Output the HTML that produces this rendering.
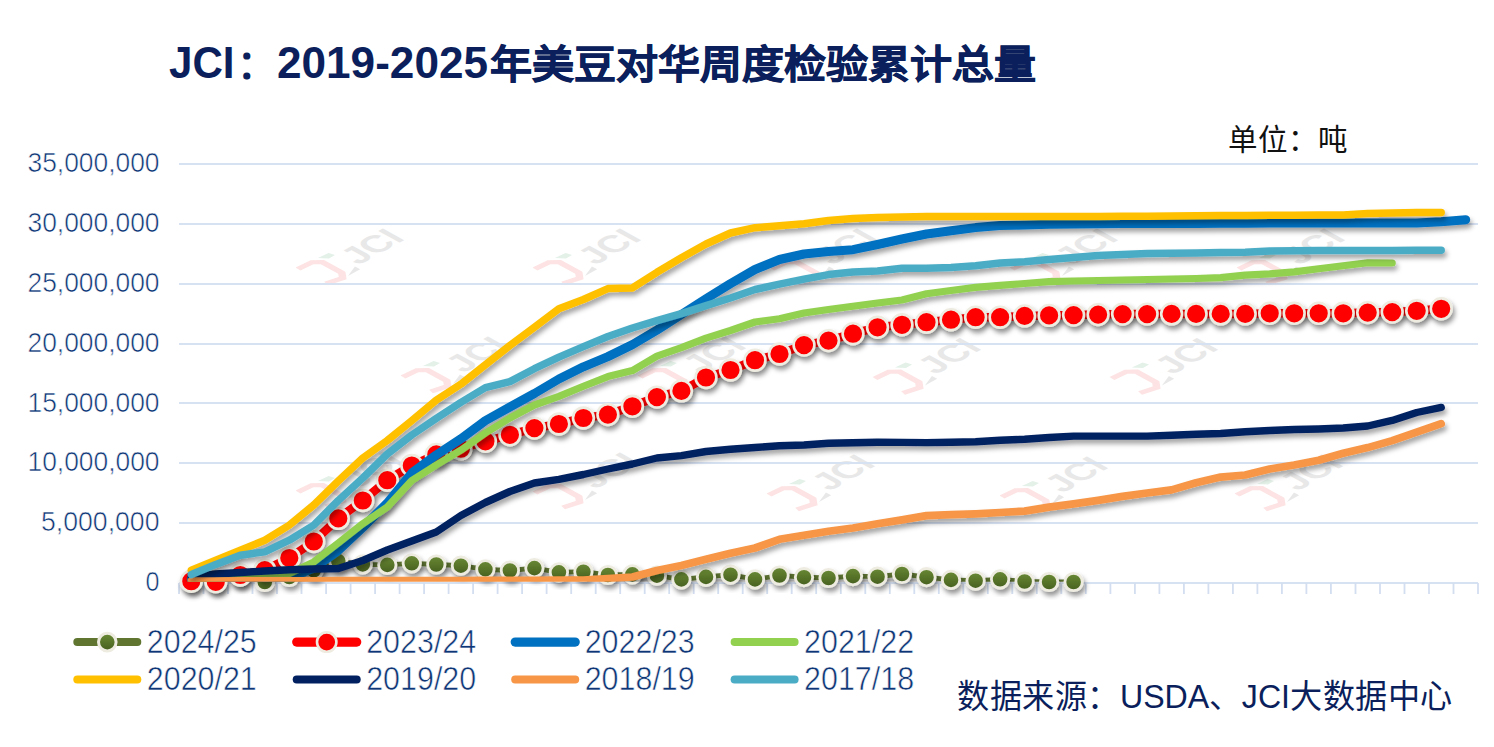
<!DOCTYPE html>
<html lang="zh-CN"><head><meta charset="utf-8">
<style>
html,body{margin:0;padding:0;background:#fff;}
body{width:1494px;height:747px;overflow:hidden;position:relative;font-family:"Liberation Sans",sans-serif;}
svg{position:absolute;left:0;top:0;}
.ax{font-size:28.5px;fill:#0E3676;stroke:#fff;stroke-width:0.6px;font-family:"Liberation Sans",sans-serif;}
.lg{font-size:33px;fill:#0E3676;stroke:#fff;stroke-width:0.6px;font-family:"Liberation Sans",sans-serif;}
.wm{font-size:35px;font-weight:bold;fill:#E8E8E8;font-family:"Liberation Sans",sans-serif;}
.title{position:absolute;left:170px;top:36px;font-size:38px;font-weight:bold;color:#0B1F5C;white-space:nowrap;line-height:1;}
.unit{position:absolute;left:1228px;top:120px;font-size:27px;color:#111;white-space:nowrap;line-height:1;}
.src{position:absolute;left:958px;top:676px;font-size:30px;color:#0B1F5C;white-space:nowrap;line-height:1;}
</style></head><body>
<svg width="1494" height="747" viewBox="0 0 1494 747">
<defs>
<filter id="sh" x="-5%" y="-20%" width="110%" height="140%"><feDropShadow dx="2" dy="4" stdDeviation="2.6" flood-color="#000" flood-opacity="0.36"/></filter>
<filter id="sh2" x="-50%" y="-50%" width="200%" height="200%"><feDropShadow dx="2" dy="4" stdDeviation="2.6" flood-color="#000" flood-opacity="0.42"/></filter>
<clipPath id="pc"><rect x="170" y="150" width="1324" height="431.8"/></clipPath>
<linearGradient id="og" x1="0" y1="0" x2="0" y2="1"><stop offset="0" stop-color="#6A8A35"/><stop offset="1" stop-color="#465F1E"/></linearGradient>
</defs>
<g transform="matrix(0.875,-0.485,0.877,0.48,298.0,269.0)">
<path d="M0 0 L15 1 L21 7 L21 29 L16 35 L1 31" fill="none" stroke="#FDE3E3" stroke-width="6" stroke-linejoin="miter"/>
<path d="M22.8 0 L34 1 L35.6 6.7 L28.4 7 Z" fill="#E3F1E8"/>
<path d="M21 36 L35 30 L35 36 Z" fill="#E8E8E8"/>
<text x="38" y="31" class="wm">JCI</text>
</g><g transform="matrix(0.875,-0.485,0.877,0.48,535.0,269.0)">
<path d="M0 0 L15 1 L21 7 L21 29 L16 35 L1 31" fill="none" stroke="#FDE3E3" stroke-width="6" stroke-linejoin="miter"/>
<path d="M22.8 0 L34 1 L35.6 6.7 L28.4 7 Z" fill="#E3F1E8"/>
<path d="M21 36 L35 30 L35 36 Z" fill="#E8E8E8"/>
<text x="38" y="31" class="wm">JCI</text>
</g><g transform="matrix(0.875,-0.485,0.877,0.48,772.0,269.0)">
<path d="M0 0 L15 1 L21 7 L21 29 L16 35 L1 31" fill="none" stroke="#FDE3E3" stroke-width="6" stroke-linejoin="miter"/>
<path d="M22.8 0 L34 1 L35.6 6.7 L28.4 7 Z" fill="#E3F1E8"/>
<path d="M21 36 L35 30 L35 36 Z" fill="#E8E8E8"/>
<text x="38" y="31" class="wm">JCI</text>
</g><g transform="matrix(0.875,-0.485,0.877,0.48,1012.0,269.0)">
<path d="M0 0 L15 1 L21 7 L21 29 L16 35 L1 31" fill="none" stroke="#FDE3E3" stroke-width="6" stroke-linejoin="miter"/>
<path d="M22.8 0 L34 1 L35.6 6.7 L28.4 7 Z" fill="#E3F1E8"/>
<path d="M21 36 L35 30 L35 36 Z" fill="#E8E8E8"/>
<text x="38" y="31" class="wm">JCI</text>
</g><g transform="matrix(0.875,-0.485,0.877,0.48,1239.0,269.0)">
<path d="M0 0 L15 1 L21 7 L21 29 L16 35 L1 31" fill="none" stroke="#FDE3E3" stroke-width="6" stroke-linejoin="miter"/>
<path d="M22.8 0 L34 1 L35.6 6.7 L28.4 7 Z" fill="#E3F1E8"/>
<path d="M21 36 L35 30 L35 36 Z" fill="#E8E8E8"/>
<text x="38" y="31" class="wm">JCI</text>
</g><g transform="matrix(0.875,-0.485,0.877,0.48,403.0,377.0)">
<path d="M0 0 L15 1 L21 7 L21 29 L16 35 L1 31" fill="none" stroke="#FDE3E3" stroke-width="6" stroke-linejoin="miter"/>
<path d="M22.8 0 L34 1 L35.6 6.7 L28.4 7 Z" fill="#E3F1E8"/>
<path d="M21 36 L35 30 L35 36 Z" fill="#E8E8E8"/>
<text x="38" y="31" class="wm">JCI</text>
</g><g transform="matrix(0.875,-0.485,0.877,0.48,640.0,377.0)">
<path d="M0 0 L15 1 L21 7 L21 29 L16 35 L1 31" fill="none" stroke="#FDE3E3" stroke-width="6" stroke-linejoin="miter"/>
<path d="M22.8 0 L34 1 L35.6 6.7 L28.4 7 Z" fill="#E3F1E8"/>
<path d="M21 36 L35 30 L35 36 Z" fill="#E8E8E8"/>
<text x="38" y="31" class="wm">JCI</text>
</g><g transform="matrix(0.875,-0.485,0.877,0.48,875.0,378.5)">
<path d="M0 0 L15 1 L21 7 L21 29 L16 35 L1 31" fill="none" stroke="#FDE3E3" stroke-width="6" stroke-linejoin="miter"/>
<path d="M22.8 0 L34 1 L35.6 6.7 L28.4 7 Z" fill="#E3F1E8"/>
<path d="M21 36 L35 30 L35 36 Z" fill="#E8E8E8"/>
<text x="38" y="31" class="wm">JCI</text>
</g><g transform="matrix(0.875,-0.485,0.877,0.48,1112.0,378.5)">
<path d="M0 0 L15 1 L21 7 L21 29 L16 35 L1 31" fill="none" stroke="#FDE3E3" stroke-width="6" stroke-linejoin="miter"/>
<path d="M22.8 0 L34 1 L35.6 6.7 L28.4 7 Z" fill="#E3F1E8"/>
<path d="M21 36 L35 30 L35 36 Z" fill="#E8E8E8"/>
<text x="38" y="31" class="wm">JCI</text>
</g><g transform="matrix(0.875,-0.485,0.877,0.48,298.0,492.0)">
<path d="M0 0 L15 1 L21 7 L21 29 L16 35 L1 31" fill="none" stroke="#FDE3E3" stroke-width="6" stroke-linejoin="miter"/>
<path d="M22.8 0 L34 1 L35.6 6.7 L28.4 7 Z" fill="#E3F1E8"/>
<path d="M21 36 L35 30 L35 36 Z" fill="#E8E8E8"/>
<text x="38" y="31" class="wm">JCI</text>
</g><g transform="matrix(0.875,-0.485,0.877,0.48,535.0,493.0)">
<path d="M0 0 L15 1 L21 7 L21 29 L16 35 L1 31" fill="none" stroke="#FDE3E3" stroke-width="6" stroke-linejoin="miter"/>
<path d="M22.8 0 L34 1 L35.6 6.7 L28.4 7 Z" fill="#E3F1E8"/>
<path d="M21 36 L35 30 L35 36 Z" fill="#E8E8E8"/>
<text x="38" y="31" class="wm">JCI</text>
</g><g transform="matrix(0.875,-0.485,0.877,0.48,769.0,495.0)">
<path d="M0 0 L15 1 L21 7 L21 29 L16 35 L1 31" fill="none" stroke="#FDE3E3" stroke-width="6" stroke-linejoin="miter"/>
<path d="M22.8 0 L34 1 L35.6 6.7 L28.4 7 Z" fill="#E3F1E8"/>
<path d="M21 36 L35 30 L35 36 Z" fill="#E8E8E8"/>
<text x="38" y="31" class="wm">JCI</text>
</g><g transform="matrix(0.875,-0.485,0.877,0.48,1002.0,497.0)">
<path d="M0 0 L15 1 L21 7 L21 29 L16 35 L1 31" fill="none" stroke="#FDE3E3" stroke-width="6" stroke-linejoin="miter"/>
<path d="M22.8 0 L34 1 L35.6 6.7 L28.4 7 Z" fill="#E3F1E8"/>
<path d="M21 36 L35 30 L35 36 Z" fill="#E8E8E8"/>
<text x="38" y="31" class="wm">JCI</text>
</g><g transform="matrix(0.875,-0.485,0.877,0.48,1237.0,495.0)">
<path d="M0 0 L15 1 L21 7 L21 29 L16 35 L1 31" fill="none" stroke="#FDE3E3" stroke-width="6" stroke-linejoin="miter"/>
<path d="M22.8 0 L34 1 L35.6 6.7 L28.4 7 Z" fill="#E3F1E8"/>
<path d="M21 36 L35 30 L35 36 Z" fill="#E8E8E8"/>
<text x="38" y="31" class="wm">JCI</text>
</g>
<rect x="179" y="163" width="1299" height="2" fill="#D6E1F2"/><rect x="179" y="223" width="1299" height="2" fill="#D6E1F2"/><rect x="179" y="283" width="1299" height="2" fill="#D6E1F2"/><rect x="179" y="343" width="1299" height="2" fill="#D6E1F2"/><rect x="179" y="402" width="1299" height="2" fill="#D6E1F2"/><rect x="179" y="462" width="1299" height="2" fill="#D6E1F2"/><rect x="179" y="522" width="1299" height="2" fill="#D6E1F2"/><rect x="179" y="582" width="1299" height="2" fill="#D6E1F2"/>
<rect x="178.1" y="583" width="1.8" height="11" fill="#D3DEF0"/><rect x="202.6" y="583" width="1.8" height="11" fill="#D3DEF0"/><rect x="227.1" y="583" width="1.8" height="11" fill="#D3DEF0"/><rect x="251.6" y="583" width="1.8" height="11" fill="#D3DEF0"/><rect x="276.1" y="583" width="1.8" height="11" fill="#D3DEF0"/><rect x="300.6" y="583" width="1.8" height="11" fill="#D3DEF0"/><rect x="325.2" y="583" width="1.8" height="11" fill="#D3DEF0"/><rect x="349.7" y="583" width="1.8" height="11" fill="#D3DEF0"/><rect x="374.2" y="583" width="1.8" height="11" fill="#D3DEF0"/><rect x="398.7" y="583" width="1.8" height="11" fill="#D3DEF0"/><rect x="423.2" y="583" width="1.8" height="11" fill="#D3DEF0"/><rect x="447.7" y="583" width="1.8" height="11" fill="#D3DEF0"/><rect x="472.2" y="583" width="1.8" height="11" fill="#D3DEF0"/><rect x="496.7" y="583" width="1.8" height="11" fill="#D3DEF0"/><rect x="521.2" y="583" width="1.8" height="11" fill="#D3DEF0"/><rect x="545.7" y="583" width="1.8" height="11" fill="#D3DEF0"/><rect x="570.3" y="583" width="1.8" height="11" fill="#D3DEF0"/><rect x="594.8" y="583" width="1.8" height="11" fill="#D3DEF0"/><rect x="619.3" y="583" width="1.8" height="11" fill="#D3DEF0"/><rect x="643.8" y="583" width="1.8" height="11" fill="#D3DEF0"/><rect x="668.3" y="583" width="1.8" height="11" fill="#D3DEF0"/><rect x="692.8" y="583" width="1.8" height="11" fill="#D3DEF0"/><rect x="717.3" y="583" width="1.8" height="11" fill="#D3DEF0"/><rect x="741.8" y="583" width="1.8" height="11" fill="#D3DEF0"/><rect x="766.3" y="583" width="1.8" height="11" fill="#D3DEF0"/><rect x="790.8" y="583" width="1.8" height="11" fill="#D3DEF0"/><rect x="815.3" y="583" width="1.8" height="11" fill="#D3DEF0"/><rect x="839.9" y="583" width="1.8" height="11" fill="#D3DEF0"/><rect x="864.4" y="583" width="1.8" height="11" fill="#D3DEF0"/><rect x="888.9" y="583" width="1.8" height="11" fill="#D3DEF0"/><rect x="913.4" y="583" width="1.8" height="11" fill="#D3DEF0"/><rect x="937.9" y="583" width="1.8" height="11" fill="#D3DEF0"/><rect x="962.4" y="583" width="1.8" height="11" fill="#D3DEF0"/><rect x="986.9" y="583" width="1.8" height="11" fill="#D3DEF0"/><rect x="1011.4" y="583" width="1.8" height="11" fill="#D3DEF0"/><rect x="1035.9" y="583" width="1.8" height="11" fill="#D3DEF0"/><rect x="1060.4" y="583" width="1.8" height="11" fill="#D3DEF0"/><rect x="1084.9" y="583" width="1.8" height="11" fill="#D3DEF0"/><rect x="1109.5" y="583" width="1.8" height="11" fill="#D3DEF0"/><rect x="1134.0" y="583" width="1.8" height="11" fill="#D3DEF0"/><rect x="1158.5" y="583" width="1.8" height="11" fill="#D3DEF0"/><rect x="1183.0" y="583" width="1.8" height="11" fill="#D3DEF0"/><rect x="1207.5" y="583" width="1.8" height="11" fill="#D3DEF0"/><rect x="1232.0" y="583" width="1.8" height="11" fill="#D3DEF0"/><rect x="1256.5" y="583" width="1.8" height="11" fill="#D3DEF0"/><rect x="1281.0" y="583" width="1.8" height="11" fill="#D3DEF0"/><rect x="1305.5" y="583" width="1.8" height="11" fill="#D3DEF0"/><rect x="1330.0" y="583" width="1.8" height="11" fill="#D3DEF0"/><rect x="1354.6" y="583" width="1.8" height="11" fill="#D3DEF0"/><rect x="1379.1" y="583" width="1.8" height="11" fill="#D3DEF0"/><rect x="1403.6" y="583" width="1.8" height="11" fill="#D3DEF0"/><rect x="1428.1" y="583" width="1.8" height="11" fill="#D3DEF0"/><rect x="1452.6" y="583" width="1.8" height="11" fill="#D3DEF0"/><rect x="1477.1" y="583" width="1.8" height="11" fill="#D3DEF0"/>
<text x="27.5" y="171.9" class="ax" textLength="132.0" lengthAdjust="spacingAndGlyphs">35,000,000</text><text x="27.5" y="231.8" class="ax" textLength="132.0" lengthAdjust="spacingAndGlyphs">30,000,000</text><text x="27.5" y="291.7" class="ax" textLength="132.0" lengthAdjust="spacingAndGlyphs">25,000,000</text><text x="27.5" y="351.6" class="ax" textLength="132.0" lengthAdjust="spacingAndGlyphs">20,000,000</text><text x="27.5" y="411.5" class="ax" textLength="132.0" lengthAdjust="spacingAndGlyphs">15,000,000</text><text x="27.5" y="471.4" class="ax" textLength="132.0" lengthAdjust="spacingAndGlyphs">10,000,000</text><text x="41.0" y="531.3" class="ax" textLength="118.5" lengthAdjust="spacingAndGlyphs">5,000,000</text><text x="145.5" y="591.2" class="ax" textLength="14.0" lengthAdjust="spacingAndGlyphs">0</text>
<g clip-path="url(#pc)"><path d="M191.3 581.2 L215.8 581.8 L240.3 576.5 L264.8 582.0 L289.3 577.0 L313.8 570.3 L338.3 561.1 L362.8 564.4 L387.3 564.9 L411.8 563.3 L436.3 564.5 L460.9 565.7 L485.4 569.3 L509.9 570.5 L534.4 568.1 L558.9 572.3 L583.4 571.7 L607.9 575.0 L632.4 574.4 L656.9 575.7 L681.4 579.4 L706.0 576.9 L730.5 574.7 L755.0 579.4 L779.5 575.5 L804.0 577.2 L828.5 578.0 L853.0 576.1 L877.5 576.7 L902.0 574.0 L926.5 577.2 L951.0 579.9 L975.6 580.7 L1000.1 579.3 L1024.6 581.5 L1049.1 582.0 L1073.6 582.0" fill="none" stroke="#5F7530" stroke-width="4.8" stroke-linejoin="round" stroke-linecap="round" filter="url(#sh)"/></g><circle cx="191.3" cy="581.2" r="8.7" fill="url(#og)" stroke="#EEECE1" stroke-width="2.8" filter="url(#sh2)"/><circle cx="215.8" cy="581.8" r="8.7" fill="url(#og)" stroke="#EEECE1" stroke-width="2.8" filter="url(#sh2)"/><circle cx="240.3" cy="576.5" r="8.7" fill="url(#og)" stroke="#EEECE1" stroke-width="2.8" filter="url(#sh2)"/><circle cx="264.8" cy="582.0" r="8.7" fill="url(#og)" stroke="#EEECE1" stroke-width="2.8" filter="url(#sh2)"/><circle cx="289.3" cy="577.0" r="8.7" fill="url(#og)" stroke="#EEECE1" stroke-width="2.8" filter="url(#sh2)"/><circle cx="313.8" cy="570.3" r="8.7" fill="url(#og)" stroke="#EEECE1" stroke-width="2.8" filter="url(#sh2)"/><circle cx="338.3" cy="561.1" r="8.7" fill="url(#og)" stroke="#EEECE1" stroke-width="2.8" filter="url(#sh2)"/><circle cx="362.8" cy="564.4" r="8.7" fill="url(#og)" stroke="#EEECE1" stroke-width="2.8" filter="url(#sh2)"/><circle cx="387.3" cy="564.9" r="8.7" fill="url(#og)" stroke="#EEECE1" stroke-width="2.8" filter="url(#sh2)"/><circle cx="411.8" cy="563.3" r="8.7" fill="url(#og)" stroke="#EEECE1" stroke-width="2.8" filter="url(#sh2)"/><circle cx="436.3" cy="564.5" r="8.7" fill="url(#og)" stroke="#EEECE1" stroke-width="2.8" filter="url(#sh2)"/><circle cx="460.9" cy="565.7" r="8.7" fill="url(#og)" stroke="#EEECE1" stroke-width="2.8" filter="url(#sh2)"/><circle cx="485.4" cy="569.3" r="8.7" fill="url(#og)" stroke="#EEECE1" stroke-width="2.8" filter="url(#sh2)"/><circle cx="509.9" cy="570.5" r="8.7" fill="url(#og)" stroke="#EEECE1" stroke-width="2.8" filter="url(#sh2)"/><circle cx="534.4" cy="568.1" r="8.7" fill="url(#og)" stroke="#EEECE1" stroke-width="2.8" filter="url(#sh2)"/><circle cx="558.9" cy="572.3" r="8.7" fill="url(#og)" stroke="#EEECE1" stroke-width="2.8" filter="url(#sh2)"/><circle cx="583.4" cy="571.7" r="8.7" fill="url(#og)" stroke="#EEECE1" stroke-width="2.8" filter="url(#sh2)"/><circle cx="607.9" cy="575.0" r="8.7" fill="url(#og)" stroke="#EEECE1" stroke-width="2.8" filter="url(#sh2)"/><circle cx="632.4" cy="574.4" r="8.7" fill="url(#og)" stroke="#EEECE1" stroke-width="2.8" filter="url(#sh2)"/><circle cx="656.9" cy="575.7" r="8.7" fill="url(#og)" stroke="#EEECE1" stroke-width="2.8" filter="url(#sh2)"/><circle cx="681.4" cy="579.4" r="8.7" fill="url(#og)" stroke="#EEECE1" stroke-width="2.8" filter="url(#sh2)"/><circle cx="706.0" cy="576.9" r="8.7" fill="url(#og)" stroke="#EEECE1" stroke-width="2.8" filter="url(#sh2)"/><circle cx="730.5" cy="574.7" r="8.7" fill="url(#og)" stroke="#EEECE1" stroke-width="2.8" filter="url(#sh2)"/><circle cx="755.0" cy="579.4" r="8.7" fill="url(#og)" stroke="#EEECE1" stroke-width="2.8" filter="url(#sh2)"/><circle cx="779.5" cy="575.5" r="8.7" fill="url(#og)" stroke="#EEECE1" stroke-width="2.8" filter="url(#sh2)"/><circle cx="804.0" cy="577.2" r="8.7" fill="url(#og)" stroke="#EEECE1" stroke-width="2.8" filter="url(#sh2)"/><circle cx="828.5" cy="578.0" r="8.7" fill="url(#og)" stroke="#EEECE1" stroke-width="2.8" filter="url(#sh2)"/><circle cx="853.0" cy="576.1" r="8.7" fill="url(#og)" stroke="#EEECE1" stroke-width="2.8" filter="url(#sh2)"/><circle cx="877.5" cy="576.7" r="8.7" fill="url(#og)" stroke="#EEECE1" stroke-width="2.8" filter="url(#sh2)"/><circle cx="902.0" cy="574.0" r="8.7" fill="url(#og)" stroke="#EEECE1" stroke-width="2.8" filter="url(#sh2)"/><circle cx="926.5" cy="577.2" r="8.7" fill="url(#og)" stroke="#EEECE1" stroke-width="2.8" filter="url(#sh2)"/><circle cx="951.0" cy="579.9" r="8.7" fill="url(#og)" stroke="#EEECE1" stroke-width="2.8" filter="url(#sh2)"/><circle cx="975.6" cy="580.7" r="8.7" fill="url(#og)" stroke="#EEECE1" stroke-width="2.8" filter="url(#sh2)"/><circle cx="1000.1" cy="579.3" r="8.7" fill="url(#og)" stroke="#EEECE1" stroke-width="2.8" filter="url(#sh2)"/><circle cx="1024.6" cy="581.5" r="8.7" fill="url(#og)" stroke="#EEECE1" stroke-width="2.8" filter="url(#sh2)"/><circle cx="1049.1" cy="582.0" r="8.7" fill="url(#og)" stroke="#EEECE1" stroke-width="2.8" filter="url(#sh2)"/><circle cx="1073.6" cy="582.0" r="8.7" fill="url(#og)" stroke="#EEECE1" stroke-width="2.8" filter="url(#sh2)"/><g clip-path="url(#pc)"><path d="M191.3 581.2 L215.8 581.8 L240.3 575.0 L264.8 570.1 L289.3 558.0 L313.8 541.5 L338.3 518.4 L362.8 500.5 L387.3 480.2 L411.8 465.5 L436.3 454.4 L460.9 448.7 L485.4 441.3 L509.9 434.8 L534.4 428.1 L558.9 424.0 L583.4 418.0 L607.9 414.6 L632.4 406.3 L656.9 397.1 L681.4 390.9 L706.0 377.5 L730.5 370.0 L755.0 360.2 L779.5 354.0 L804.0 345.1 L828.5 340.6 L853.0 333.7 L877.5 327.3 L902.0 324.8 L926.5 322.2 L951.0 319.7 L975.6 317.2 L1000.1 317.2 L1024.6 315.9 L1049.1 315.4 L1073.6 315.1 L1098.1 314.6 L1122.6 314.1 L1147.1 314.1 L1171.6 313.9 L1196.1 313.9 L1220.7 313.9 L1245.2 313.9 L1269.7 313.3 L1294.2 313.3 L1318.7 313.3 L1343.2 313.3 L1367.7 312.6 L1392.2 312.1 L1416.7 310.8 L1441.2 308.8" fill="none" stroke="#FF0000" stroke-width="8.5" stroke-linejoin="round" stroke-linecap="round" filter="url(#sh)"/></g><circle cx="191.3" cy="581.2" r="10.4" fill="#FF0000" stroke="#EEECE1" stroke-width="2.6" filter="url(#sh2)"/><circle cx="215.8" cy="581.8" r="10.4" fill="#FF0000" stroke="#EEECE1" stroke-width="2.6" filter="url(#sh2)"/><circle cx="240.3" cy="575.0" r="10.4" fill="#FF0000" stroke="#EEECE1" stroke-width="2.6" filter="url(#sh2)"/><circle cx="264.8" cy="570.1" r="10.4" fill="#FF0000" stroke="#EEECE1" stroke-width="2.6" filter="url(#sh2)"/><circle cx="289.3" cy="558.0" r="10.4" fill="#FF0000" stroke="#EEECE1" stroke-width="2.6" filter="url(#sh2)"/><circle cx="313.8" cy="541.5" r="10.4" fill="#FF0000" stroke="#EEECE1" stroke-width="2.6" filter="url(#sh2)"/><circle cx="338.3" cy="518.4" r="10.4" fill="#FF0000" stroke="#EEECE1" stroke-width="2.6" filter="url(#sh2)"/><circle cx="362.8" cy="500.5" r="10.4" fill="#FF0000" stroke="#EEECE1" stroke-width="2.6" filter="url(#sh2)"/><circle cx="387.3" cy="480.2" r="10.4" fill="#FF0000" stroke="#EEECE1" stroke-width="2.6" filter="url(#sh2)"/><circle cx="411.8" cy="465.5" r="10.4" fill="#FF0000" stroke="#EEECE1" stroke-width="2.6" filter="url(#sh2)"/><circle cx="436.3" cy="454.4" r="10.4" fill="#FF0000" stroke="#EEECE1" stroke-width="2.6" filter="url(#sh2)"/><circle cx="460.9" cy="448.7" r="10.4" fill="#FF0000" stroke="#EEECE1" stroke-width="2.6" filter="url(#sh2)"/><circle cx="485.4" cy="441.3" r="10.4" fill="#FF0000" stroke="#EEECE1" stroke-width="2.6" filter="url(#sh2)"/><circle cx="509.9" cy="434.8" r="10.4" fill="#FF0000" stroke="#EEECE1" stroke-width="2.6" filter="url(#sh2)"/><circle cx="534.4" cy="428.1" r="10.4" fill="#FF0000" stroke="#EEECE1" stroke-width="2.6" filter="url(#sh2)"/><circle cx="558.9" cy="424.0" r="10.4" fill="#FF0000" stroke="#EEECE1" stroke-width="2.6" filter="url(#sh2)"/><circle cx="583.4" cy="418.0" r="10.4" fill="#FF0000" stroke="#EEECE1" stroke-width="2.6" filter="url(#sh2)"/><circle cx="607.9" cy="414.6" r="10.4" fill="#FF0000" stroke="#EEECE1" stroke-width="2.6" filter="url(#sh2)"/><circle cx="632.4" cy="406.3" r="10.4" fill="#FF0000" stroke="#EEECE1" stroke-width="2.6" filter="url(#sh2)"/><circle cx="656.9" cy="397.1" r="10.4" fill="#FF0000" stroke="#EEECE1" stroke-width="2.6" filter="url(#sh2)"/><circle cx="681.4" cy="390.9" r="10.4" fill="#FF0000" stroke="#EEECE1" stroke-width="2.6" filter="url(#sh2)"/><circle cx="706.0" cy="377.5" r="10.4" fill="#FF0000" stroke="#EEECE1" stroke-width="2.6" filter="url(#sh2)"/><circle cx="730.5" cy="370.0" r="10.4" fill="#FF0000" stroke="#EEECE1" stroke-width="2.6" filter="url(#sh2)"/><circle cx="755.0" cy="360.2" r="10.4" fill="#FF0000" stroke="#EEECE1" stroke-width="2.6" filter="url(#sh2)"/><circle cx="779.5" cy="354.0" r="10.4" fill="#FF0000" stroke="#EEECE1" stroke-width="2.6" filter="url(#sh2)"/><circle cx="804.0" cy="345.1" r="10.4" fill="#FF0000" stroke="#EEECE1" stroke-width="2.6" filter="url(#sh2)"/><circle cx="828.5" cy="340.6" r="10.4" fill="#FF0000" stroke="#EEECE1" stroke-width="2.6" filter="url(#sh2)"/><circle cx="853.0" cy="333.7" r="10.4" fill="#FF0000" stroke="#EEECE1" stroke-width="2.6" filter="url(#sh2)"/><circle cx="877.5" cy="327.3" r="10.4" fill="#FF0000" stroke="#EEECE1" stroke-width="2.6" filter="url(#sh2)"/><circle cx="902.0" cy="324.8" r="10.4" fill="#FF0000" stroke="#EEECE1" stroke-width="2.6" filter="url(#sh2)"/><circle cx="926.5" cy="322.2" r="10.4" fill="#FF0000" stroke="#EEECE1" stroke-width="2.6" filter="url(#sh2)"/><circle cx="951.0" cy="319.7" r="10.4" fill="#FF0000" stroke="#EEECE1" stroke-width="2.6" filter="url(#sh2)"/><circle cx="975.6" cy="317.2" r="10.4" fill="#FF0000" stroke="#EEECE1" stroke-width="2.6" filter="url(#sh2)"/><circle cx="1000.1" cy="317.2" r="10.4" fill="#FF0000" stroke="#EEECE1" stroke-width="2.6" filter="url(#sh2)"/><circle cx="1024.6" cy="315.9" r="10.4" fill="#FF0000" stroke="#EEECE1" stroke-width="2.6" filter="url(#sh2)"/><circle cx="1049.1" cy="315.4" r="10.4" fill="#FF0000" stroke="#EEECE1" stroke-width="2.6" filter="url(#sh2)"/><circle cx="1073.6" cy="315.1" r="10.4" fill="#FF0000" stroke="#EEECE1" stroke-width="2.6" filter="url(#sh2)"/><circle cx="1098.1" cy="314.6" r="10.4" fill="#FF0000" stroke="#EEECE1" stroke-width="2.6" filter="url(#sh2)"/><circle cx="1122.6" cy="314.1" r="10.4" fill="#FF0000" stroke="#EEECE1" stroke-width="2.6" filter="url(#sh2)"/><circle cx="1147.1" cy="314.1" r="10.4" fill="#FF0000" stroke="#EEECE1" stroke-width="2.6" filter="url(#sh2)"/><circle cx="1171.6" cy="313.9" r="10.4" fill="#FF0000" stroke="#EEECE1" stroke-width="2.6" filter="url(#sh2)"/><circle cx="1196.1" cy="313.9" r="10.4" fill="#FF0000" stroke="#EEECE1" stroke-width="2.6" filter="url(#sh2)"/><circle cx="1220.7" cy="313.9" r="10.4" fill="#FF0000" stroke="#EEECE1" stroke-width="2.6" filter="url(#sh2)"/><circle cx="1245.2" cy="313.9" r="10.4" fill="#FF0000" stroke="#EEECE1" stroke-width="2.6" filter="url(#sh2)"/><circle cx="1269.7" cy="313.3" r="10.4" fill="#FF0000" stroke="#EEECE1" stroke-width="2.6" filter="url(#sh2)"/><circle cx="1294.2" cy="313.3" r="10.4" fill="#FF0000" stroke="#EEECE1" stroke-width="2.6" filter="url(#sh2)"/><circle cx="1318.7" cy="313.3" r="10.4" fill="#FF0000" stroke="#EEECE1" stroke-width="2.6" filter="url(#sh2)"/><circle cx="1343.2" cy="313.3" r="10.4" fill="#FF0000" stroke="#EEECE1" stroke-width="2.6" filter="url(#sh2)"/><circle cx="1367.7" cy="312.6" r="10.4" fill="#FF0000" stroke="#EEECE1" stroke-width="2.6" filter="url(#sh2)"/><circle cx="1392.2" cy="312.1" r="10.4" fill="#FF0000" stroke="#EEECE1" stroke-width="2.6" filter="url(#sh2)"/><circle cx="1416.7" cy="310.8" r="10.4" fill="#FF0000" stroke="#EEECE1" stroke-width="2.6" filter="url(#sh2)"/><circle cx="1441.2" cy="308.8" r="10.4" fill="#FF0000" stroke="#EEECE1" stroke-width="2.6" filter="url(#sh2)"/><g clip-path="url(#pc)"><path d="M191.3 579.0 L215.8 579.5 L240.3 579.0 L264.8 578.5 L289.3 577.8 L313.8 568.0 L338.3 550.5 L362.8 527.5 L387.3 503.0 L411.8 473.0 L436.3 455.0 L460.9 438.8 L485.4 420.6 L509.9 407.0 L534.4 393.5 L558.9 379.0 L583.4 366.8 L607.9 356.6 L632.4 344.6 L656.9 330.1 L681.4 314.5 L706.0 298.8 L730.5 283.7 L755.0 269.5 L779.5 259.5 L804.0 254.0 L828.5 251.5 L853.0 249.7 L877.5 244.5 L902.0 239.0 L926.5 234.0 L951.0 230.7 L975.6 227.6 L1000.1 225.6 L1024.6 225.1 L1049.1 224.3 L1073.6 224.0 L1098.1 223.8 L1122.6 223.6 L1147.1 223.6 L1171.6 223.5 L1196.1 223.4 L1220.7 223.3 L1245.2 223.2 L1269.7 223.1 L1294.2 223.1 L1318.7 223.1 L1343.2 223.1 L1367.7 223.1 L1392.2 223.1 L1416.7 223.1 L1441.2 221.8 L1465.7 219.8" fill="none" stroke="#0070C0" stroke-width="9" stroke-linejoin="round" stroke-linecap="round" filter="url(#sh)"/></g><g clip-path="url(#pc)"><path d="M191.3 578.6 L215.8 577.8 L240.3 577.0 L264.8 576.1 L289.3 573.6 L313.8 561.9 L338.3 543.0 L362.8 523.7 L387.3 507.0 L411.8 480.5 L436.3 465.0 L460.9 450.2 L485.4 433.0 L509.9 418.0 L534.4 405.0 L558.9 396.4 L583.4 386.2 L607.9 376.6 L632.4 370.6 L656.9 356.1 L681.4 347.7 L706.0 338.1 L730.5 330.5 L755.0 322.0 L779.5 318.8 L804.0 313.0 L828.5 309.5 L853.0 306.2 L877.5 303.0 L902.0 300.0 L926.5 293.8 L951.0 290.5 L975.6 287.4 L1000.1 285.4 L1024.6 283.5 L1049.1 281.6 L1073.6 281.0 L1098.1 280.5 L1122.6 280.0 L1147.1 279.5 L1171.6 279.0 L1196.1 278.5 L1220.7 277.7 L1245.2 275.2 L1269.7 273.9 L1294.2 271.9 L1318.7 268.8 L1343.2 265.8 L1367.7 262.8 L1392.2 263.0" fill="none" stroke="#92D050" stroke-width="7.2" stroke-linejoin="round" stroke-linecap="round" filter="url(#sh)"/></g><g clip-path="url(#pc)"><path d="M191.3 570.3 L215.8 560.2 L240.3 550.2 L264.8 540.2 L289.3 525.1 L313.8 505.0 L338.3 481.0 L362.8 458.0 L387.3 440.5 L411.8 420.6 L436.3 400.1 L460.9 384.2 L485.4 364.8 L509.9 345.5 L534.4 327.3 L558.9 308.8 L583.4 299.5 L607.9 288.6 L632.4 287.9 L656.9 272.3 L681.4 257.8 L706.0 244.0 L730.5 233.0 L755.0 227.7 L779.5 225.8 L804.0 223.8 L828.5 220.5 L853.0 218.5 L877.5 217.5 L902.0 217.0 L926.5 216.5 L951.0 216.5 L975.6 216.5 L1000.1 216.5 L1024.6 216.5 L1049.1 216.5 L1073.6 216.5 L1098.1 216.5 L1122.6 216.3 L1147.1 216.2 L1171.6 216.0 L1196.1 215.8 L1220.7 215.6 L1245.2 215.4 L1269.7 215.3 L1294.2 215.2 L1318.7 215.1 L1343.2 214.9 L1367.7 213.4 L1392.2 212.9 L1416.7 212.4 L1441.2 212.4" fill="none" stroke="#FFC000" stroke-width="7.5" stroke-linejoin="round" stroke-linecap="round" filter="url(#sh)"/></g><g clip-path="url(#pc)"><path d="M191.3 577.0 L215.8 574.0 L240.3 572.5 L264.8 571.0 L289.3 569.8 L313.8 569.0 L338.3 568.5 L362.8 560.5 L387.3 550.0 L411.8 541.0 L436.3 532.0 L460.9 515.5 L485.4 502.5 L509.9 491.5 L534.4 483.0 L558.9 479.3 L583.4 474.5 L607.9 469.0 L632.4 464.0 L656.9 458.0 L681.4 455.6 L706.0 451.5 L730.5 449.3 L755.0 447.5 L779.5 445.8 L804.0 445.0 L828.5 443.2 L853.0 442.8 L877.5 442.2 L902.0 442.4 L926.5 442.6 L951.0 442.3 L975.6 441.8 L1000.1 440.3 L1024.6 439.3 L1049.1 437.5 L1073.6 436.1 L1098.1 436.1 L1122.6 436.1 L1147.1 436.1 L1171.6 435.3 L1196.1 434.3 L1220.7 433.5 L1245.2 431.8 L1269.7 430.5 L1294.2 429.5 L1318.7 429.0 L1343.2 428.0 L1367.7 426.0 L1392.2 420.4 L1416.7 412.5 L1441.2 407.4" fill="none" stroke="#002060" stroke-width="7.4" stroke-linejoin="round" stroke-linecap="round" filter="url(#sh)"/></g><g clip-path="url(#pc)"><path d="M191.3 581.0 L215.8 581.0 L240.3 580.9 L264.8 580.9 L289.3 580.8 L313.8 580.8 L338.3 580.7 L362.8 580.6 L387.3 580.6 L411.8 580.5 L436.3 580.5 L460.9 580.5 L485.4 580.4 L509.9 580.4 L534.4 580.3 L558.9 580.2 L583.4 580.2 L607.9 578.5 L632.4 577.0 L656.9 570.5 L681.4 565.5 L706.0 559.3 L730.5 553.2 L755.0 548.0 L779.5 539.3 L804.0 535.2 L828.5 531.2 L853.0 528.0 L877.5 523.7 L902.0 519.9 L926.5 515.6 L951.0 514.6 L975.6 513.8 L1000.1 512.5 L1024.6 511.1 L1049.1 507.1 L1073.6 503.9 L1098.1 500.4 L1122.6 496.4 L1147.1 493.0 L1171.6 489.9 L1196.1 482.7 L1220.7 477.1 L1245.2 475.0 L1269.7 469.0 L1294.2 465.0 L1318.7 460.3 L1343.2 453.3 L1367.7 447.6 L1392.2 440.6 L1416.7 432.2 L1441.2 423.7" fill="none" stroke="#F79646" stroke-width="7.7" stroke-linejoin="round" stroke-linecap="round" filter="url(#sh)"/></g><g clip-path="url(#pc)"><path d="M191.3 574.5 L215.8 564.4 L240.3 555.2 L264.8 551.9 L289.3 540.2 L313.8 525.1 L338.3 500.5 L362.8 478.0 L387.3 454.0 L411.8 435.0 L436.3 418.3 L460.9 402.4 L485.4 387.6 L509.9 381.6 L534.4 368.7 L558.9 357.1 L583.4 346.6 L607.9 336.5 L632.4 328.0 L656.9 320.6 L681.4 313.6 L706.0 305.6 L730.5 298.0 L755.0 289.5 L779.5 284.2 L804.0 279.2 L828.5 274.6 L853.0 271.9 L877.5 270.9 L902.0 268.3 L926.5 268.3 L951.0 267.6 L975.6 265.8 L1000.1 263.0 L1024.6 261.7 L1049.1 259.5 L1073.6 257.4 L1098.1 255.5 L1122.6 254.5 L1147.1 253.6 L1171.6 253.3 L1196.1 253.0 L1220.7 252.6 L1245.2 252.3 L1269.7 251.0 L1294.2 250.8 L1318.7 250.6 L1343.2 250.5 L1367.7 250.5 L1392.2 250.4 L1416.7 250.3 L1441.2 250.3" fill="none" stroke="#4BACC6" stroke-width="7.5" stroke-linejoin="round" stroke-linecap="round" filter="url(#sh)"/></g>
<line x1="77.3" y1="642.1" x2="137.3" y2="642.1" stroke="#5F7530" stroke-width="8.0" stroke-linecap="round"/><circle cx="107.3" cy="642.1" r="8.8" fill="url(#og)" stroke="#EEECE1" stroke-width="3"/><text x="146.8" y="652.7" class="lg" textLength="110" lengthAdjust="spacingAndGlyphs">2024/25</text><line x1="296.7" y1="642.1" x2="356.7" y2="642.1" stroke="#FF0000" stroke-width="9.2" stroke-linecap="round"/><circle cx="326.7" cy="642.1" r="9.7" fill="#FF0000" stroke="#EEECE1" stroke-width="2.6"/><text x="366.2" y="652.7" class="lg" textLength="110" lengthAdjust="spacingAndGlyphs">2023/24</text><line x1="515.2" y1="642.1" x2="575.2" y2="642.1" stroke="#0070C0" stroke-width="9.2" stroke-linecap="round"/><text x="584.7" y="652.7" class="lg" textLength="110" lengthAdjust="spacingAndGlyphs">2022/23</text><line x1="734.6" y1="642.1" x2="794.6" y2="642.1" stroke="#92D050" stroke-width="8.0" stroke-linecap="round"/><text x="804.1" y="652.7" class="lg" textLength="110" lengthAdjust="spacingAndGlyphs">2021/22</text><line x1="77.3" y1="679.4" x2="137.3" y2="679.4" stroke="#FFC000" stroke-width="8.0" stroke-linecap="round"/><text x="146.8" y="689.6" class="lg" textLength="110" lengthAdjust="spacingAndGlyphs">2020/21</text><line x1="296.7" y1="679.4" x2="356.7" y2="679.4" stroke="#002060" stroke-width="8.0" stroke-linecap="round"/><text x="366.2" y="689.6" class="lg" textLength="110" lengthAdjust="spacingAndGlyphs">2019/20</text><line x1="515.2" y1="679.4" x2="575.2" y2="679.4" stroke="#F79646" stroke-width="8.0" stroke-linecap="round"/><text x="584.7" y="689.6" class="lg" textLength="110" lengthAdjust="spacingAndGlyphs">2018/19</text><line x1="734.6" y1="679.4" x2="794.6" y2="679.4" stroke="#4BACC6" stroke-width="8.0" stroke-linecap="round"/><text x="804.1" y="689.6" class="lg" textLength="110" lengthAdjust="spacingAndGlyphs">2017/18</text>
<text x="169" y="77.8" font-size="44" font-weight="bold" fill="#0B1F5C" textLength="65.5" lengthAdjust="spacingAndGlyphs">JCI</text><text x="237" y="77.8" font-size="39" font-weight="bold" fill="#0B1F5C">：</text><text x="277" y="77.8" font-size="44" font-weight="bold" fill="#0B1F5C" textLength="211" lengthAdjust="spacingAndGlyphs">2019-2025</text><text x="490" y="77.5" font-size="39" font-weight="bold" fill="#0B1F5C" stroke="#0B1F5C" stroke-width="0.7" textLength="546" lengthAdjust="spacingAndGlyphs">年美豆对华周度检验累计总量</text><text x="1228" y="149.5" font-size="29.5" fill="#111">单位：吨</text><text x="957" y="707.5" font-size="32.5" fill="#0B1F5C" textLength="496" lengthAdjust="spacingAndGlyphs">数据来源：USDA、JCI大数据中心</text>
</svg>

</body></html>
